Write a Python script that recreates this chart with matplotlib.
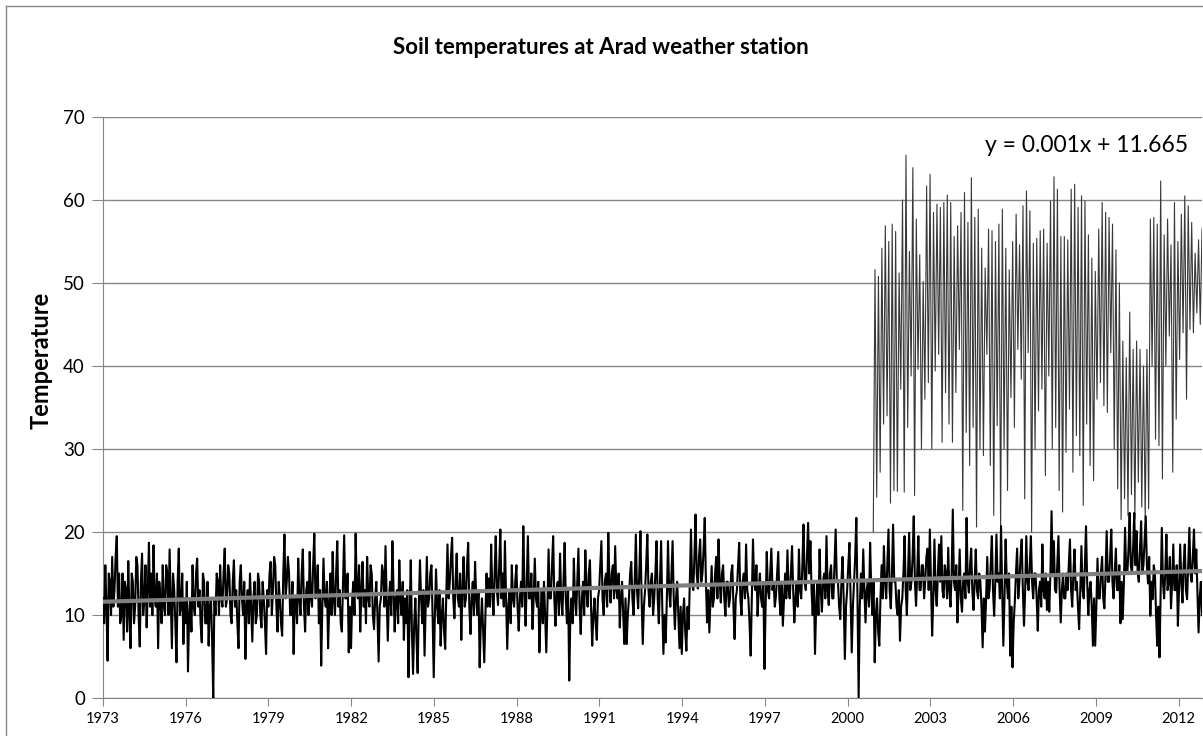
import numpy as np
import matplotlib
matplotlib.use("Agg")
import matplotlib.pyplot as plt
from matplotlib.lines import Line2D

plt.rcParams['font.family'] = ['Lato', 'DejaVu Sans']

# lower series: soil temperature, ~24 readings per year, 1973 .. end of 2012
temp_1970s = [12, 9, 16, 11, 4.5, 15, 14, 10, 17, 11, 13, 17, 19.5, 11, 15, 9, 10, 15, 7, 14, 13, 8, 16.5, 10,
              6, 15, 14, 9, 11, 17, 16, 10, 6.2, 14, 17.4, 10, 12, 16, 8.5, 13, 18.7, 11, 15, 10, 18.4, 12, 11, 15,
              6, 14, 12, 9, 16, 11, 10, 16, 15, 10, 17.9, 12, 6, 15, 13, 9, 4.3, 14, 18, 10, 11, 15, 6.5, 12,
              9, 14, 3.2, 10, 12, 8, 16, 11, 10, 15, 16.8, 11, 13, 9, 6.7, 15, 14, 9, 9, 14, 6.3, 11, 12, 7,
              0, 12, 10, 15, 14, 10, 16, 12, 11, 15, 18, 11, 12, 16, 15, 10, 9, 14, 16.6, 11, 13, 9, 6, 14,
              16, 12, 10, 14, 4.7, 11, 13, 9, 15, 11, 6.8, 12, 14, 9, 10, 15, 14, 10, 8.5, 14, 12, 9, 5.3, 13,
              11, 15, 16.4, 10, 13, 17, 16, 11, 8, 14, 12, 9, 7.5, 15, 19.7, 12, 14, 17, 15, 10, 10, 14, 5.3, 12]
temp_1980s = [12, 9, 16.8, 12, 10, 15, 17.9, 11, 8, 13, 14, 10, 17.6, 12, 11, 16, 19.8, 12, 13, 16, 9, 13, 3.9, 11,
              16.8, 12, 11, 14, 6, 11, 15, 10, 17.6, 12, 10, 15, 18.9, 11, 13, 9, 8, 14, 19.6, 12, 12, 15, 5.5, 11,
              6, 12, 14, 10, 19.8, 13, 12, 16, 8, 13, 16.4, 11, 13, 9, 17, 12, 11, 16, 15, 10, 8.3, 12, 14, 10,
              4.4, 11, 12, 16, 15, 11, 18.3, 12, 6.9, 12, 14, 10, 18.9, 13, 8, 12, 13, 9, 16.6, 12, 10, 14, 7, 12,
              9, 13, 2.5, 10, 16.6, 8, 2.9, 9, 12, 7, 3, 11, 16.6, 12, 9, 13, 5.1, 11, 17, 11, 12, 15, 16, 10,
              2.5, 10, 15.5, 11, 9, 13, 6.3, 10, 12, 8, 5.9, 13, 18.5, 12, 14, 17, 19.3, 12, 9.6, 14, 17.4, 12, 11, 15,
              7, 13, 17, 11, 12, 16, 18.7, 11, 7.7, 12, 14, 10, 16.4, 12, 10, 13, 3.7, 9, 12, 8, 4.3, 10, 15, 11,
              14.4, 11, 18.5, 13, 10, 15, 19.5, 13, 11.2, 16, 20.3, 12, 15, 11, 18.9, 12, 5.9, 11, 13, 9, 16, 12, 11, 14,
              16, 11, 8.1, 12, 14, 11, 20.7, 13, 8.7, 14, 19.5, 12, 12, 15, 8.3, 12, 16.8, 12, 11, 14, 5.5, 10, 13, 9,
              14, 10, 5.5, 11, 17.9, 12, 12, 16, 19.5, 12, 8.7, 13, 14, 10, 17.4, 12, 10, 14, 18.7, 12, 9, 13, 2.1, 10]
temp_1990s = [12, 9, 16.8, 12, 10, 14, 18, 11, 7.7, 12, 14, 10, 17.8, 13, 11, 15, 16.6, 11, 6.3, 10, 12, 9, 7, 12,
              13, 16, 18.9, 12, 10, 14, 15, 11, 19.9, 14, 11.5, 15, 16, 12, 18.3, 13, 12, 15, 8.5, 12, 14, 10, 6.5, 12,
              6.5, 10, 12, 15, 16.4, 12, 10, 14, 19.7, 13, 10.8, 15, 20.1, 12, 6.5, 11, 13, 16, 19.7, 13, 11, 14, 15, 10,
              12, 15, 18.9, 12, 9, 14, 18.9, 11, 5.3, 10, 6.7, 12, 18.9, 13, 11, 15, 18.9, 12, 8.3, 12, 14, 10, 6, 11,
              5.3, 10, 12, 8, 5.7, 11, 8.3, 14, 20.3, 14, 13, 17, 22.1, 15, 13.2, 17, 19.1, 14, 15, 18, 21.7, 14, 9.1, 13,
              7.9, 12, 15.9, 11, 12, 15, 17, 12, 19.1, 14, 11.5, 15, 16, 12, 9.9, 14, 14, 11, 12, 15, 16, 11, 7.1, 12,
              13, 16, 18.7, 12, 10, 14, 15, 12, 18.5, 13, 12, 9, 5.1, 12, 19.1, 14, 13, 16, 9.9, 13, 15, 12, 11, 14,
              3.5, 11, 17.6, 13, 12, 15, 18, 13, 14, 11, 12.3, 15, 17.6, 12, 10, 14, 8.7, 12, 15, 12, 17.8, 13, 12, 15,
              18.3, 13, 9.1, 12, 14, 11, 17.9, 13, 12, 16, 20.9, 14, 13, 17, 21.1, 15, 18.9, 13, 10, 14, 5.3, 11, 14, 10,
              17.9, 13, 10.4, 14, 15, 12, 19.5, 13, 11.2, 15, 16, 12, 12, 16, 20.3, 14, 14, 11, 9.5, 14, 17, 12, 4.7, 11]
temp_2000s = [13, 16, 18.7, 12, 5.5, 11, 14, 17, 21.7, 12, 0, 11, 15, 12, 17.9, 13, 9.1, 13, 14, 11, 18.7, 13, 10, 14,
              4.3, 10, 12, 8, 6.3, 12, 16, 12, 18.3, 14, 12, 16, 20.3, 13, 10.8, 15, 20.9, 14, 14, 11, 10, 13, 6.9, 11,
              12, 15, 19.5, 13, 10, 15, 19.9, 13, 14, 17, 21.9, 14, 11.1, 15, 19.5, 13, 13, 16, 16, 12, 14.2, 17, 18, 13,
              20.3, 14, 7.5, 12, 19.1, 13, 11.1, 15, 18.5, 14, 19.5, 13, 12.1, 16, 15, 12, 18.1, 13, 11, 15, 22.7, 14, 13, 16,
              9.1, 13, 17.9, 12, 10.4, 14, 15, 12, 21.7, 14, 12.7, 16, 18, 13, 10.6, 14, 17.9, 13, 12, 15, 14, 11, 6.1, 12,
              8, 12, 17, 12, 13, 16, 19.5, 13, 9.9, 14, 19.7, 14, 15, 12, 20.7, 13, 6.3, 12, 19.1, 14, 12, 15, 5.1, 11,
              3.7, 9, 11.6, 15, 18, 12, 14, 17, 19.1, 13, 8.7, 13, 19.5, 14, 13, 16, 19.5, 14, 12, 15, 15, 12, 8.1, 13,
              14, 11, 18.5, 13, 12, 15, 10.6, 14, 10.4, 15, 22.5, 15, 18.9, 13, 12.7, 16, 19.5, 13, 9.1, 13, 15, 12, 12, 15,
              13, 16, 19.1, 13, 11, 15, 17.9, 13, 14, 11, 8.3, 13, 18.3, 13, 12, 16, 20.7, 14, 10, 13, 14, 11, 6.3, 12,
              6.3, 11, 16.8, 12, 12, 15, 17, 12, 10.8, 15, 20.1, 14, 14, 17, 20.3, 14, 12, 15, 18, 13, 13, 16, 9, 14]
temp_2010s = [9.5, 14, 20.5, 15, 15, 18, 22.3, 16, 15, 18, 22.3, 16, 20.1, 15, 14, 18, 21.3, 15, 16, 19, 21.9, 16, 13.8, 17,
              9.9, 14, 11.9, 16, 15, 10, 6.3, 11, 4.9, 13, 20.5, 14, 12, 15, 19.7, 13, 14, 17, 10.8, 14, 18.5, 13, 13, 16,
              8.7, 13, 18.5, 14, 11.5, 16, 18.5, 13, 11.9, 16, 20.5, 15, 14, 17, 20.3, 15, 17.9, 13, 7.9, 12, 14, 10]

# upper series (starts late 2000), ~16 readings per year
surf_2001_2004 = [20, 51.6, 24.2, 50.8, 27.2, 54.2, 33, 56.9, 34, 55, 23.5, 57.1, 25, 56.2, 24.9, 51.2,
                  37.2, 60, 24.8, 65.4, 32.6, 53.8, 38.8, 63.9, 24.4, 57.7, 39.6, 53.4, 30, 50.2, 36, 61.7,
                  38, 63.1, 30, 58.5, 39.4, 59.5, 41.4, 59.1, 30.8, 59.7, 36.8, 60.6, 33, 59.7, 30.8, 55.6,
                  36.8, 56.9, 42, 58.5, 22.6, 60.9, 32, 57.3, 28, 62.7, 32.6, 57.9, 20.6, 58.9, 30, 54.2]
surf_2005_2008 = [29.2, 51.8, 41.4, 56.5, 28, 56.3, 22, 55, 32.8, 57.1, 20, 58.9, 30, 54.2, 25, 51.6,
                  36.2, 55, 32.6, 58.3, 42, 54.6, 38.4, 59.3, 24, 61.1, 41.6, 58.7, 20, 54.8, 30, 55.4,
                  34.6, 56.3, 37.2, 56.5, 26.8, 54.8, 38.8, 59.9, 30, 62.8, 32.6, 61.3, 25, 55.6, 22.4, 55.6,
                  29.6, 55.2, 34.8, 61.3, 27.2, 61.9, 31.6, 59.1, 29.2, 60.5, 23.2, 59.9, 33, 55.8, 28, 53]
surf_2009_2012 = [26.2, 51.4, 36, 56.5, 38, 59.7, 35.2, 58.5, 34.4, 57.9, 41.6, 57.1, 30, 54, 25.2, 50,
                  21.5, 43, 24, 41, 22, 46.5, 24.5, 42, 21.6, 43, 26, 42, 23, 40, 21.5, 42,
                  22.8, 57.7, 40, 57.9, 31.2, 57.1, 30.4, 62.3, 26.4, 55.8, 40, 57.7, 43.6, 54.6, 27.2, 59.7,
                  33.6, 55, 40.8, 58.3, 44, 60.5, 36, 59.3, 44.4, 57.3, 44, 53.6, 46.4, 55.2, 45, 56.5]

trend_ends = [11.6, 15.3]   # linear trend line
year_ticks = list(range(1973, 2013, 3))

start, end, surf_start = 1973.0, 2012.85, 2000.93

lower = np.array(temp_1970s + temp_1980s + temp_1990s + temp_2000s + temp_2010s)
upper = np.array(surf_2001_2004 + surf_2005_2008 + surf_2009_2012)
t_low = np.linspace(start, end, len(lower))
t_up = np.linspace(surf_start, end, len(upper))

W, H = 1203, 736
fig = plt.figure(figsize=(W / 100, H / 100), dpi=100)
ax = fig.add_axes([103 / W, (H - 698) / H, (1202 - 103) / W, (698 - 117) / H])

grey = '#868686'
ax.plot(t_up, upper, color='#383838', lw=0.8, zorder=2)
ax.plot(t_low, lower, color='black', lw=1.5, zorder=3)
ax.plot([start, end], trend_ends, color='#808080', lw=3, zorder=4)

ax.set_xlim(start, end)
ax.set_ylim(0, 70)
ax.set_yticks(np.arange(0, 71, 10))
ax.set_xticks(year_ticks)
ax.set_xticklabels([str(y) for y in year_ticks])
ax.grid(axis='y', color=grey, lw=1)
ax.set_axisbelow(True)
for s in ['top', 'right']:
    ax.spines[s].set_visible(False)
for s in ['left', 'bottom']:
    ax.spines[s].set_color(grey)
ax.tick_params(axis='y', direction='out', length=8, color=grey, labelsize=13.5, pad=5)
ax.tick_params(axis='x', direction='out', length=6, color=grey, labelsize=10.5, pad=4)

fig.text(601 / W, 1 - 48 / H, 'Soil temperatures at Arad weather station',
         ha='center', va='center', fontsize=16, fontweight='bold')
fig.text(41 / W, 1 - 360 / H, 'Temperature', rotation=90,
         ha='center', va='center', fontsize=17, fontweight='bold')
fig.text(1188 / W, 1 - 145 / H, 'y = 0.001x + 11.665', ha='right', va='center', fontsize=16.5)

# outer chart border (right and bottom edges are cut off)
fig.add_artist(Line2D([6 / W, 6 / W], [0, 1 - 6 / H], transform=fig.transFigure, color=grey, lw=1))
fig.add_artist(Line2D([6 / W, 1], [1 - 6 / H, 1 - 6 / H], transform=fig.transFigure, color=grey, lw=1))

fig.savefig('out.png', dpi=100)
